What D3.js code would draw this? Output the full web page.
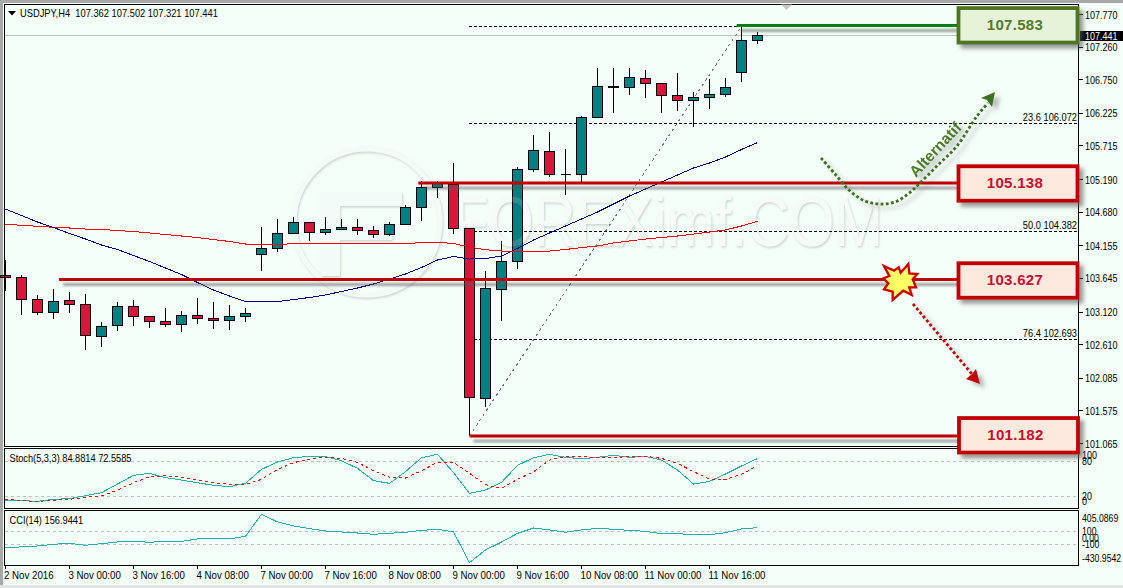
<!DOCTYPE html>
<html><head><meta charset="utf-8">
<script src="https://cdn.jsdelivr.net/npm/d3@7/dist/d3.min.js"></script>
<style>
html,body{margin:0;padding:0;background:#F5FFFA;overflow:hidden}
svg{display:block}
text{font-family:"Liberation Sans",Arial,sans-serif}
</style></head><body>
<svg id="c" width="1123" height="588"></svg>
<script>
const opens=[103.683,103.652,103.319,103.109,103.303,103.241,102.734,102.912,103.209,103.053,102.975,102.928,103.068,103.021,102.990,103.053,104.022,104.116,104.350,104.522,104.366,104.413,104.444,104.397,104.335,104.491,104.757,105.069,105.116,104.428,101.771,103.475,103.912,105.350,105.632,105.272,105.272,106.163,106.634,106.632,106.773,106.695,106.507,106.429,106.476,106.517,106.867,107.362];
const highs=[103.933,103.714,103.386,103.480,103.433,103.402,102.975,103.277,103.323,103.073,103.193,103.136,103.354,103.292,103.245,103.193,104.464,104.574,104.620,104.522,104.620,104.585,104.585,104.475,104.538,104.808,105.183,105.183,105.460,104.428,103.766,104.245,105.402,105.887,105.949,105.679,106.184,106.934,106.934,106.934,106.913,106.710,106.871,106.574,106.762,106.788,107.579,107.502];
const lows=[103.464,103.078,103.078,103.015,103.120,102.531,102.578,102.828,102.917,102.875,102.890,102.812,102.937,102.859,102.843,102.968,103.766,104.063,104.350,104.235,104.339,104.413,104.328,104.281,104.313,104.491,104.547,104.907,104.350,101.198,101.651,102.995,103.797,105.324,105.235,104.949,105.157,106.163,106.235,106.512,106.470,106.235,106.266,106.016,106.298,106.496,106.720,107.321];
const closes=[103.652,103.319,103.109,103.287,103.241,102.756,102.897,103.209,103.053,102.975,102.928,103.068,103.021,102.990,103.053,103.100,104.116,104.350,104.522,104.366,104.413,104.444,104.397,104.335,104.491,104.757,105.069,105.128,104.428,101.787,103.491,103.912,105.350,105.647,105.272,105.272,106.163,106.648,106.650,106.788,106.695,106.507,106.429,106.476,106.523,106.632,107.367,107.441];
const maBlue=[104.730,104.628,104.527,104.441,104.347,104.261,104.167,104.097,104.003,103.909,103.808,103.706,103.581,103.464,103.370,103.284,103.284,103.284,103.315,103.347,103.386,103.441,103.495,103.558,103.636,103.714,103.816,103.933,103.988,103.948,103.956,103.995,104.113,104.245,104.355,104.464,104.574,104.683,104.808,104.933,105.042,105.152,105.261,105.371,105.449,105.543,105.660,105.769];
const maRed=[104.491,104.475,104.460,104.444,104.433,104.417,104.410,104.394,104.378,104.355,104.331,104.308,104.284,104.253,104.222,104.183,104.178,104.178,104.186,104.188,104.188,104.188,104.188,104.188,104.188,104.188,104.206,104.209,104.191,104.136,104.094,104.073,104.069,104.066,104.073,104.097,104.128,104.152,104.199,104.230,104.261,104.284,104.308,104.339,104.370,104.402,104.464,104.538];
const stochMain=[13.7,12.6,11.4,14.9,16,21.1,26.3,41.1,56,59.4,52,48,43.4,38.9,36.6,42.3,66.3,78.9,86.3,88.6,88,81.1,68,46.9,42.3,62.3,86.3,92,60.6,25.1,30.9,44,73.1,86.3,92,86.9,84.6,86.9,90.3,86.9,88.6,82.3,65.1,41.1,45.7,58.3,72,84.88];
const stochSignal=[14.9,12.6,11.4,13.1,14.9,18.3,20.6,30.9,43.4,53.7,55.4,52.6,48,43.4,40.6,40.6,49.1,66.3,77.7,84,86.9,85.1,78.3,64,52.6,51.4,64,78.3,78.3,59.4,40,33.7,49.1,62.3,82.3,88,88,86.3,86.9,88,88.6,85.1,76.6,62.3,49.7,49.1,57.7,72.56];
const cciValues=[-146,-141,-126,-100,-85,-115,-90,-64,-54,-69,-54,-54,-18,-18,-18,23,362,244,182,141,105,90,74,54,69,85,115,131,90,-382,-187,-64,69,151,121,85,121,146,131,115,100,64,64,49,49,79,136,156.94];
const priceTicks=[107.770,107.260,106.750,106.225,105.715,105.190,104.680,104.155,103.645,103.120,102.610,102.085,101.575,101.065];
const timeLabels=["2 Nov 2016","3 Nov 00:00","3 Nov 16:00","4 Nov 08:00","7 Nov 00:00","7 Nov 16:00","8 Nov 08:00","9 Nov 00:00","9 Nov 16:00","10 Nov 08:00","11 Nov 00:00","11 Nov 16:00"];
const fibLabels=["23.6 106.072","50.0  104.382","76.4 102.693"];
const fibLevels=[106.072,104.382,102.693];
const fibTop=107.583, fibBottom=101.182, lastPrice=107.441;
const boxLevels=[101.182,103.627,105.138];
const boxStartIndex=[29,3.35,25.8];
const greenLevel=107.583;

const svg=d3.select("#c");
const X0=4.5,X1=1078.5;
const x=d3.scaleLinear().domain([0,47]).range([5.5,757.5]);
const y=d3.scaleLinear().domain([101.065,107.770]).range([443.5,14.5]);
const yS=d3.scaleLinear().domain([0,100]).range([508,449.7]);
const yC=d3.scaleLinear().domain([-430.9542,405.0869]).range([565.8,511.5]);
const snap=v=>Math.round(v-.5)+.5;
const FS="10.6px";

const defs=svg.append("defs");
function shadow(id,dx,dy,s,op,col){
  const f=defs.append("filter").attr("id",id).attr("filterUnits","userSpaceOnUse")
    .attr("x",0).attr("y",0).attr("width",1123).attr("height",588);
  f.append("feDropShadow").attr("dx",dx).attr("dy",dy).attr("stdDeviation",s)
    .attr("flood-color",col||"#555").attr("flood-opacity",op);
}
shadow("lineShadow",4,5,1.3,.55);
shadow("boxShadow",4,4,2,.6);
shadow("arrowShadow",5,4,2,.4);
shadow("emboss",1,1.5,1,.4,"#8a9490");

// window edges
svg.append("rect").attr("width",1123).attr("height",588).attr("fill","#F5FFFA");
svg.append("rect").attr("width",1123).attr("height",3).attr("fill","#a8a8a8");
svg.append("rect").attr("width",3).attr("height",588).attr("fill","#a8a8a8");
svg.append("rect").attr("y",585).attr("width",1123).attr("height",3).attr("fill","#e4e4e4");

// watermark
const wmText=g=>g.append("text").attr("x",453).attr("y",246).attr("font-size","70px").attr("textLength",430).attr("lengthAdjust","spacingAndGlyphs").text("FOREXimf.COM");
const wm=svg.append("g").attr("filter","url(#emboss)");
wm.append("circle").attr("cx",367).attr("cy",222).attr("r",73).attr("fill","none").attr("stroke","#F3FBF8").attr("stroke-width",5);
wm.append("path").attr("d","M320 192H402V206H340V226H392V240H340V276H320Z").attr("fill","#F3FBF8");
wmText(wm).attr("fill","#F3FBF8");

// current price line
svg.append("line").attr("x1",X0).attr("x2",X1).attr("y1",snap(y(lastPrice))).attr("y2",snap(y(lastPrice))).attr("stroke","#c0c0c0");

// fibonacci
const fib=svg.append("g");
fib.append("line").attr("x1",x(29)).attr("y1",y(fibBottom)).attr("x2",x(46)).attr("y2",y(fibTop))
  .attr("stroke","#777").attr("stroke-dasharray","3,3").attr("shape-rendering","crispEdges");
fib.selectAll("line.lvl").data([fibTop].concat(fibLevels)).join("line").attr("class","lvl")
  .attr("x1",x(29)-.5).attr("x2",(d,i)=>i==0?x(46):X1).attr("y1",d=>snap(y(d))).attr("y2",d=>snap(y(d)))
  .attr("stroke","#000").attr("stroke-dasharray","3,2").attr("shape-rendering","crispEdges");
fib.selectAll("text").data(fibLevels).join("text").attr("class","small").attr("data-k",.875).attr("x",1077).attr("y",d=>y(d)-2.5)
  .attr("text-anchor","end").attr("font-size",FS).attr("fill","#000").text((d,i)=>fibLabels[i]);

// candles
const candleIdx=d3.range(opens.length);
const cg=svg.append("g").attr("shape-rendering","crispEdges");
cg.selectAll("line").data(candleIdx).join("line")
  .attr("x1",i=>x(i)).attr("x2",i=>x(i)).attr("y1",i=>snap(y(highs[i]))).attr("y2",i=>snap(y(lows[i])))
  .attr("stroke","#000");
cg.selectAll("path").data(candleIdx).join("path")
  .attr("d",i=>{const t=snap(y(Math.max(opens[i],closes[i]))),b=snap(y(Math.min(opens[i],closes[i])));
    return `M${x(i)-5} ${t}H${x(i)+5}V${b}H${x(i)-5}Z`;})
  .attr("fill",i=>closes[i]>=opens[i]?"#008080":"#DC143C").attr("stroke","#000");

// faint watermark tint over the candles
wmText(svg.append("g")).attr("fill","#fff").attr("opacity",.14);

// moving averages
const lineM=d3.line().x((d,i)=>x(i)).y(d=>y(d));
svg.append("path").attr("d",lineM(maRed)).attr("fill","none").attr("stroke","#FF0000").attr("shape-rendering","crispEdges");
svg.append("path").attr("d",lineM(maBlue)).attr("fill","none").attr("stroke","#000080").attr("shape-rendering","crispEdges");

// frames
const frames=[[4.5,446.5],[448.5,508.5],[510.5,565.5]];
svg.append("g").selectAll("rect").data(frames).join("rect")
  .attr("x",X0).attr("y",d=>d[0]).attr("width",X1-X0).attr("height",d=>d[1]-d[0])
  .attr("fill","none").attr("stroke","#000").attr("shape-rendering","crispEdges");

// stochastic
const stochLevels=[80,20];
svg.append("g").selectAll("line").data(stochLevels).join("line")
  .attr("x1",X0).attr("x2",X1).attr("y1",d=>snap(yS(d))).attr("y2",d=>snap(yS(d)))
  .attr("stroke","#c0c0c0").attr("stroke-dasharray","3,3").attr("shape-rendering","crispEdges");
const lineS=d3.line().x((d,i)=>x(i)).y(d=>yS(d));
svg.append("path").attr("d",lineS(stochMain)).attr("fill","none").attr("stroke","#20B2AA").attr("shape-rendering","crispEdges");
svg.append("path").attr("d",lineS(stochSignal)).attr("fill","none").attr("stroke","#FF0000").attr("stroke-dasharray","3,3").attr("shape-rendering","crispEdges");

// cci
const cciLevels=[100,-100];
svg.append("g").selectAll("line").data(cciLevels).join("line")
  .attr("x1",X0).attr("x2",X1).attr("y1",d=>snap(yC(d))).attr("y2",d=>snap(yC(d)))
  .attr("stroke","#c0c0c0").attr("stroke-dasharray","3,3").attr("shape-rendering","crispEdges");
svg.append("path").attr("d",d3.line().x((d,i)=>x(i)).y(d=>yC(d))(cciValues)).attr("fill","none").attr("stroke","#20B2AA").attr("shape-rendering","crispEdges");

// text labels
const t=(xx,yy,s,k)=>svg.append("text").attr("class","small").attr("data-k",k).attr("x",xx).attr("y",yy).attr("font-size",FS).attr("fill","#000")
  .attr("dominant-baseline","central").style("white-space","pre").text(s);
svg.append("path").attr("d","M8 11H16L12 15.5Z").attr("fill","#000");
t(20,12.5,"USDJPY,H4  107.362 107.502 107.321 107.441",.88);
t(9.5,457.5,"Stoch(5,3,3) 84.8814 72.5585",.87);
t(9.5,519.8,"CCI(14) 156.9441",.875);
svg.append("path").attr("d","M781 4.5H792L786.5 10Z").attr("fill","#c8c8c8");

// price axis
const axis=svg.append("g");
axis.selectAll("line").data(priceTicks).join("line").attr("x1",X1).attr("x2",X1+4)
  .attr("y1",d=>snap(y(d))).attr("y2",d=>snap(y(d))).attr("stroke","#000").attr("shape-rendering","crispEdges");
axis.selectAll("text").data(priceTicks).join("text").attr("class","small").attr("data-k",.845).attr("x",1085).attr("y",d=>y(d)).attr("dominant-baseline","central")
  .attr("font-size",FS).attr("fill","#000").text(d=>d.toFixed(3));
svg.append("rect").attr("x",1080).attr("y",31).attr("width",43).attr("height",10).attr("fill","#000");
svg.append("text").attr("class","small").attr("data-k",.845).attr("x",1085).attr("y",36).attr("dominant-baseline","central").attr("font-size",FS).attr("fill","#fff").text(lastPrice.toFixed(3));

// sub pane axis labels
const stochTicks=[["100",yS(100)+5.3],["80",yS(80)],["20",yS(20)],["0",yS(0)-6.7]];
stochTicks.forEach(d=>t(1082,d[1],d[0],.845));
const cciTicks=[["405.0869",yC(405.0869)+6],["100",yC(100)],["0.00",yC(0)],["-100",yC(-100)],["-430.9542",yC(-430.9542)-8]];
cciTicks.forEach(d=>t(1082,d[1],d[0],.82));

// time axis
const tickIdx=timeLabels.map((d,i)=>i*4);
const ta=svg.append("g");
ta.selectAll("line").data(tickIdx).join("line").attr("x1",i=>x(i)).attr("x2",i=>x(i)).attr("y1",565.5).attr("y2",569)
  .attr("stroke","#000").attr("shape-rendering","crispEdges");
ta.selectAll("text").data(tickIdx).join("text").attr("class","small").attr("data-k",.915).attr("x",(i,k)=>k==0?4:x(i)-1).attr("y",574.8).attr("dominant-baseline","central")
  .attr("font-size",FS).attr("fill","#000").text((i,k)=>timeLabels[k]);

// condense the small labels to the narrow platform font's widths
svg.selectAll("text.small").each(function(){
  const n=this.getComputedTextLength();
  this.setAttribute("textLength",n*(+this.getAttribute("data-k")));
  this.setAttribute("lengthAdjust","spacingAndGlyphs");
});

// annotation lines
const GREEN="#008000",RED="#C00000",BOXGREEN="#4F7523";
const ann=svg.append("g").attr("filter","url(#lineShadow)");
ann.append("line").attr("x1",x(45.7)).attr("x2",957).attr("y1",y(greenLevel)-1).attr("y2",y(greenLevel)-1).attr("stroke",GREEN).attr("stroke-width",3);
ann.selectAll("line.r").data(boxLevels).join("line").attr("class","r")
  .attr("x1",(d,i)=>x(boxStartIndex[i])).attr("x2",957).attr("y1",d=>y(d)).attr("y2",d=>y(d)).attr("stroke",RED).attr("stroke-width",3);

// curved arrows
const curve=d3.line().curve(d3.curveCatmullRom);
const ga=svg.append("g").attr("filter","url(#arrowShadow)");
ga.append("path").attr("d",curve([[821,158],[835,174],[850,191],[865,201],[880,204],[895,202],[908,194],[920,183],[938,165],[957,146],[977,116],[988,103]]))
  .attr("fill","none").attr("stroke","#3F7020").attr("stroke-width",2.8).attr("stroke-dasharray","2.8,2.4");
ga.append("path").attr("d","M995 92L981 98L987 100L992 107Z").attr("fill","#3F7020");
ga.append("text").attr("transform","translate(916,178) rotate(-47)").attr("font-size","15.5px").attr("font-weight","bold").attr("fill","#4E7A26").text("Alternatif");
const ra=svg.append("g").attr("filter","url(#arrowShadow)");
ra.append("path").attr("d",curve([[913,304],[972,374]])).attr("fill","none").attr("stroke",RED).attr("stroke-width",2.8).attr("stroke-dasharray","2.8,2.4");
ra.append("path").attr("d","M980 384L966 379L972 374L976 369Z").attr("fill",RED);

// burst
const burst=[[42,48],[72,62],[86,52],[92,68],[115,42],[118,70],[142,72],[128,88],[138,112],[118,112],[125,135],[100,122],[68,150],[68,125],[42,118],[55,100],[40,85],[58,78]];
svg.append("path").attr("transform","translate(870,250) scale(.3333)").attr("d",d3.line()(burst)+"Z")
  .attr("fill","#FFFF66").attr("stroke","#C80000").attr("stroke-width",7).attr("stroke-linejoin","miter");

// value boxes
const boxes=[{v:"107.583",yc:25.3,h:34.5,x:958.5,w:119,s:BOXGREEN,f:"#E7F3D8",c:"#557A2E"},
  {v:"105.138",yc:183.5,h:34.5,x:958.5,w:119,s:RED,f:"#FDE9DD",c:"#C8102E"},
  {v:"103.627",yc:280.5,h:34.5,x:958.5,w:119,s:RED,f:"#FDE9DD",c:"#C8102E"},
  {v:"101.182",yc:435.3,h:34.5,x:959,w:119,s:RED,f:"#FDE9DD",c:"#C8102E"}];
const bg=svg.append("g");
bg.selectAll("rect").data(boxes).join("rect").attr("x",d=>d.x).attr("y",d=>d.yc-d.h/2).attr("width",d=>d.w).attr("height",d=>d.h)
  .attr("fill",d=>d.f).attr("stroke",d=>d.s).attr("stroke-width",3.8).attr("filter","url(#boxShadow)");
bg.selectAll("text").data(boxes).join("text").attr("x",d=>d.x+d.w/2-3).attr("y",d=>d.yc-1).attr("text-anchor","middle").attr("dominant-baseline","central")
  .attr("font-size","15px").attr("font-weight","bold").attr("letter-spacing",".3px").attr("fill",d=>d.c).text(d=>d.v);
</script>
</body></html>
